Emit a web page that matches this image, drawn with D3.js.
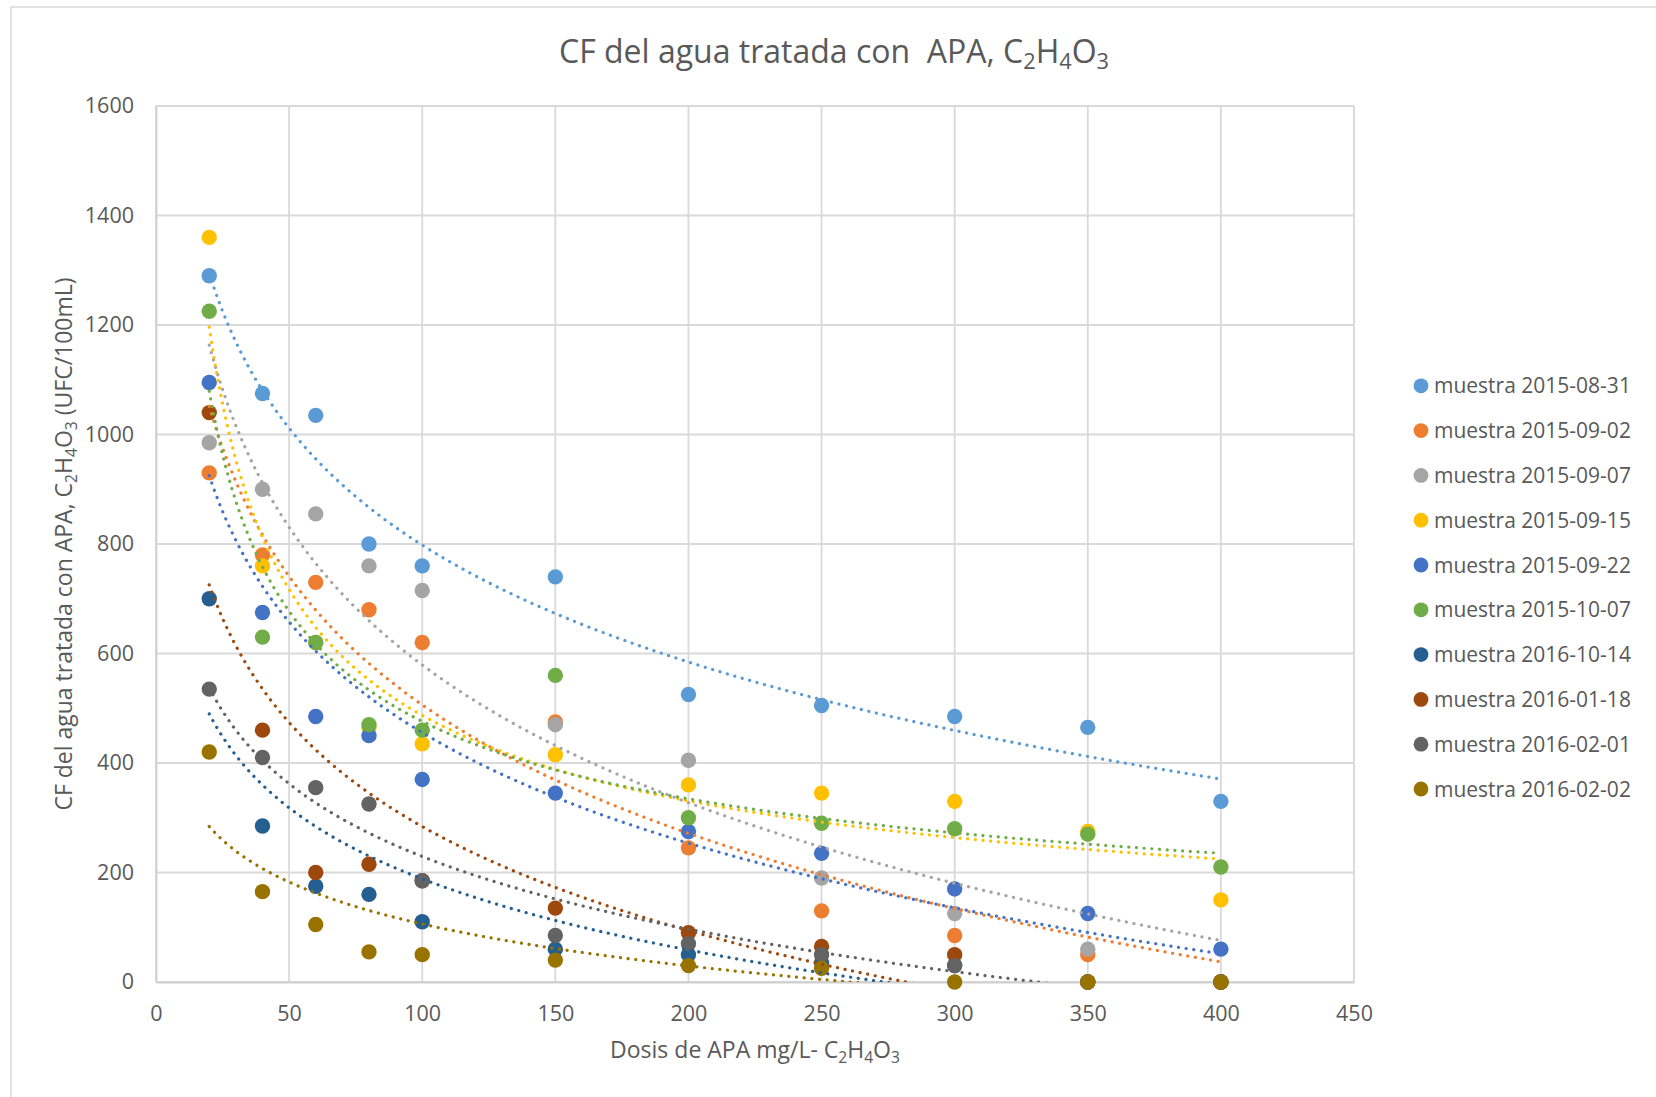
<!DOCTYPE html>
<html>
<head>
<meta charset="utf-8">
<script src="https://cdn.jsdelivr.net/npm/d3@7"></script>
<style>
  body { margin: 0; background: #ffffff; }
  svg { display: block; font-family: "Open Sans", sans-serif; }
  text { white-space: pre; }
</style>
</head>
<body>
<svg id="chart" width="1656" height="1097"></svg>
<script>
// APA dose (mg/L) applied to each sample
const doses = [20, 40, 60, 80, 100, 150, 200, 250, 300, 350, 400];

// Fecal coliforms remaining (UFC/100mL) per sample
const muestra20150831 = [1290, 1075, 1035, 800, 760, 740, 525, 505, 485, 465, 330];
const muestra20150902 = [930, 780, 730, 680, 620, 475, 245, 130, 85, 50, 0];
const muestra20150907 = [985, 900, 855, 760, 715, 470, 405, 190, 125, 60, 0];
const muestra20150915 = [1360, 760, 620, 465, 435, 415, 360, 345, 330, 275, 150];
const muestra20150922 = [1095, 675, 485, 450, 370, 345, 275, 235, 170, 125, 60];
const muestra20151007 = [1225, 630, 620, 470, 460, 560, 300, 290, 280, 270, 210];
const muestra20161014 = [700, 285, 175, 160, 110, 60, 50, 35, 30, 0, 0];
const muestra20160118 = [1040, 460, 200, 215, 185, 135, 90, 65, 50, 0, 0];
const muestra20160201 = [535, 410, 355, 325, 185, 85, 70, 50, 30, 0, 0];
const muestra20160202 = [420, 165, 105, 55, 50, 40, 30, 25, 0, 0, 0];

const seriesNames = [
  "muestra 2015-08-31", "muestra 2015-09-02", "muestra 2015-09-07",
  "muestra 2015-09-15", "muestra 2015-09-22", "muestra 2015-10-07",
  "muestra 2016-10-14", "muestra 2016-01-18", "muestra 2016-02-01",
  "muestra 2016-02-02"
];
const seriesValues = [
  muestra20150831, muestra20150902, muestra20150907, muestra20150915,
  muestra20150922, muestra20151007, muestra20161014, muestra20160118,
  muestra20160201, muestra20160202
];
const seriesColors = [
  "#5B9BD5", "#ED7D31", "#A5A5A5", "#FFC000", "#4472C4",
  "#70AD47", "#255E91", "#9E480E", "#636363", "#997300"
];
// trendline type per series: logarithmic or power
const trendTypes = ["log", "log", "log", "power", "log", "power", "log", "log", "log", "log"];

const xTickValues = [0, 50, 100, 150, 200, 250, 300, 350, 400, 450];
const yTickValues = [0, 200, 400, 600, 800, 1000, 1200, 1400, 1600];

// Layout
const plot = { left: 156, top: 106, right: 1354, bottom: 982 };
const textColor = "#595959";
const gridColor = "#D9D9D9";

const svg = d3.select("#chart");

// chart area border (left and top edges)
svg.append("path")
  .attr("d", "M11,1097 V7 H1656")
  .attr("fill", "none")
  .attr("stroke", gridColor)
  .attr("stroke-width", 1.5);

const x = d3.scaleLinear().domain([0, 450]).range([plot.left, plot.right]);
const y = d3.scaleLinear().domain([0, 1600]).range([plot.bottom, plot.top]);

// gridlines
const grid = svg.append("g");
grid.selectAll("line.h").data(yTickValues).join("line")
  .attr("x1", plot.left).attr("x2", plot.right)
  .attr("y1", d => y(d)).attr("y2", d => y(d))
  .attr("stroke", gridColor).attr("stroke-width", 1.8);
grid.selectAll("line.v").data(xTickValues).join("line")
  .attr("y1", plot.top).attr("y2", plot.bottom)
  .attr("x1", d => x(d)).attr("x2", d => x(d))
  .attr("stroke", gridColor).attr("stroke-width", 1.8);

// axes (labels only, lines come from the grid)
const xAxis = d3.axisBottom(x).tickValues(xTickValues).tickFormat(d3.format("d")).tickSize(0).tickPadding(24);
const yAxis = d3.axisLeft(y).tickValues(yTickValues).tickFormat(d3.format("d")).tickSize(0).tickPadding(22);

const gx = svg.append("g").attr("transform", `translate(0,${plot.bottom})`).call(xAxis);
const gy = svg.append("g").attr("transform", `translate(${plot.left},0)`).call(yAxis);
[gx, gy].forEach(g => {
  g.select(".domain").attr("stroke", "#D0D0D0").attr("stroke-width", 1.8);
  g.selectAll("text")
    .attr("fill", textColor)
    .style("font-family", '"Open Sans", sans-serif')
    .style("font-size", "21.5px");
});

// rich text with subscripts
function richText(sel, parts, size) {
  const shift = size * 0.2;
  let lowered = false;
  parts.forEach(p => {
    const t = sel.append("tspan").text(p.t);
    if (p.sub) {
      t.style("font-size", (size * 0.68) + "px");
      if (!lowered) t.attr("dy", shift);
      lowered = true;
    } else if (lowered) {
      t.attr("dy", -shift);
      lowered = false;
    }
  });
}

// title
const title = svg.append("text")
  .attr("x", 834).attr("y", 63)
  .attr("text-anchor", "middle")
  .attr("fill", textColor)
  .style("font-size", "32px");
richText(title, [
  { t: "CF del agua tratada con  APA, C" }, { t: "2", sub: true },
  { t: "H" }, { t: "4", sub: true }, { t: "O" }, { t: "3", sub: true }
], 32);

// x axis title
const xTitle = svg.append("text")
  .attr("x", (plot.left + plot.right) / 2).attr("y", 1058)
  .attr("text-anchor", "middle")
  .attr("fill", textColor)
  .style("font-size", "23px");
richText(xTitle, [
  { t: "Dosis de APA mg/L- C" }, { t: "2", sub: true },
  { t: "H" }, { t: "4", sub: true }, { t: "O" }, { t: "3", sub: true }
], 23);

// y axis title
const yTitle = svg.append("text")
  .attr("transform", `translate(72,${(plot.top + plot.bottom) / 2}) rotate(-90)`)
  .attr("text-anchor", "middle")
  .attr("fill", textColor)
  .style("font-size", "23px");
richText(yTitle, [
  { t: "CF del agua tratada con APA, C" }, { t: "2", sub: true },
  { t: "H" }, { t: "4", sub: true }, { t: "O" }, { t: "3", sub: true },
  { t: " (UFC/100mL)" }
], 23);

// clip region for trendlines
svg.append("clipPath").attr("id", "plotClip")
  .append("rect")
  .attr("x", plot.left).attr("y", plot.top)
  .attr("width", plot.right - plot.left).attr("height", plot.bottom - plot.top);

// markers
const markers = svg.append("g");
seriesValues.forEach((vals, i) => {
  markers.append("g").selectAll("circle")
    .data(doses.map((d, j) => [d, vals[j]]))
    .join("circle")
    .attr("cx", d => x(d[0]))
    .attr("cy", d => y(d[1]))
    .attr("r", 7.7)
    .attr("fill", seriesColors[i]);
});

// least squares on transformed values
function linFit(us, vs) {
  const mu = d3.mean(us), mv = d3.mean(vs);
  let suv = 0, suu = 0;
  us.forEach((u, k) => { suv += (u - mu) * (vs[k] - mv); suu += (u - mu) * (u - mu); });
  const a = suv / suu;
  return { a, b: mv - a * mu };
}
// logarithmic: y = a*ln(x) + b ; power: y = e^b * x^a
function trendFn(type, xs, ys) {
  if (type === "power") {
    const f = linFit(xs.map(Math.log), ys.map(Math.log));
    return v => Math.exp(f.b) * Math.pow(v, f.a);
  }
  const f = linFit(xs.map(Math.log), ys);
  return v => f.a * Math.log(v) + f.b;
}

const trend = svg.append("g").attr("clip-path", "url(#plotClip)");
const line = d3.line().x(d => x(d[0])).y(d => y(d[1]));
const xMin = d3.min(doses), xMax = d3.max(doses);
const samples = d3.range(0, 301).map(k => xMin + (xMax - xMin) * k / 300);
seriesValues.forEach((vals, i) => {
  const fn = trendFn(trendTypes[i], doses, vals);
  trend.append("path")
    .attr("d", line(samples.map(s => [s, fn(s)])))
    .attr("fill", "none")
    .attr("stroke", seriesColors[i])
    .attr("stroke-width", 3.2)
    .attr("stroke-linecap", "round")
    .attr("stroke-dasharray", "0.1 7.6");
});

// legend
const legend = svg.append("g");
seriesNames.forEach((name, i) => {
  const ly = 385.8 + i * 44.8;
  legend.append("circle")
    .attr("cx", 1421).attr("cy", ly).attr("r", 7.4)
    .attr("fill", seriesColors[i]);
  legend.append("text")
    .attr("x", 1434).attr("y", ly + 7.5)
    .attr("fill", textColor)
    .style("font-size", "21px")
    .text(name);
});
</script>
</body>
</html>
